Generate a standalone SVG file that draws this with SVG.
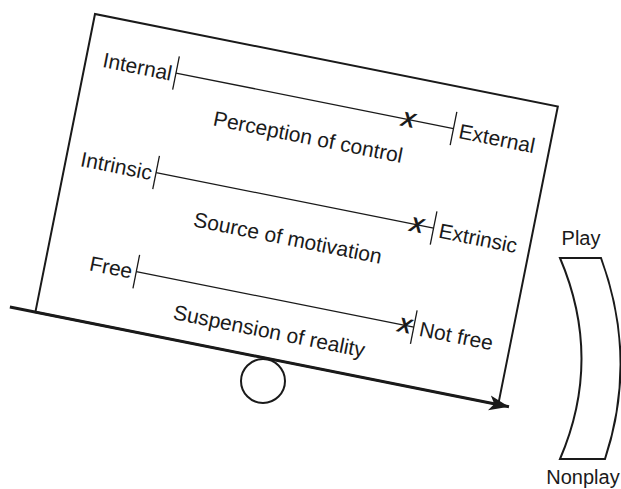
<svg xmlns="http://www.w3.org/2000/svg" width="621" height="489" viewBox="0 0 621 489">
<style>
  text { font-family: "Liberation Sans", Arial, sans-serif; font-size: 21px; fill: #1a1a1a; }
  .board { fill: none; stroke: #1a1a1a; stroke-width: 2; }
  .scale { stroke: #1a1a1a; stroke-width: 1.3; fill: none; }
  .tick { stroke: #1a1a1a; stroke-width: 1.3; }
  .mark { font-weight: bold; font-style: italic; font-size: 21px; text-anchor: middle; }
  .lever { stroke: #1a1a1a; stroke-width: 3; fill: none; }
  .end { text-anchor: end; }
  .mid { text-anchor: middle; }
  .shape { fill: none; stroke: #1a1a1a; stroke-width: 2; stroke-linejoin: miter; }
  .side { font-size: 20px; }
</style>
<defs>
  <marker id="arrow" markerUnits="userSpaceOnUse" markerWidth="24" markerHeight="18" viewBox="0 0 24 18" refX="20" refY="9" orient="auto">
    <path d="M20,9 L0,1.5 L5,9 L0,16.5 Z" fill="#1a1a1a"/>
  </marker>
</defs>
<g transform="translate(95,14) rotate(11.31)">
  <g id="board">
    <rect class="board" x="0" y="0" width="472" height="304"/>
  </g>
  <g id="scale-control">
    <line class="scale" x1="91" y1="42" x2="374" y2="42"/>
    <line class="tick" x1="91" y1="25" x2="91" y2="59"/>
    <line class="tick" x1="374" y1="25" x2="374" y2="59"/>
    <text class="end" x="87" y="50.5">Internal</text>
    <text x="380" y="50.5">External</text>
    <text class="mid" x="233" y="86">Perception of control</text>
    <text class="mark" x="328" y="49.5">X</text>
  </g>
  <g id="scale-motivation">
    <line class="scale" x1="91" y1="143.5" x2="374" y2="143.5"/>
    <line class="tick" x1="91" y1="126.5" x2="91" y2="160.5"/>
    <line class="tick" x1="374" y1="126.5" x2="374" y2="160.5"/>
    <text class="end" x="87" y="152">Intrinsic</text>
    <text x="380" y="152">Extrinsic</text>
    <text class="mid" x="233" y="189">Source of motivation</text>
    <text class="mark" x="357" y="151">X</text>
  </g>
  <g id="scale-reality">
    <line class="scale" x1="91" y1="244.5" x2="374" y2="244.5"/>
    <line class="tick" x1="91" y1="227.5" x2="91" y2="261.5"/>
    <line class="tick" x1="374" y1="227.5" x2="374" y2="261.5"/>
    <text class="end" x="87" y="252.5">Free</text>
    <text x="380" y="252">Not free</text>
    <text class="mid" x="233" y="284">Suspension of reality</text>
    <text class="mark" x="365" y="252">X</text>
  </g>
  <g id="connectors">
    <line class="lever" x1="-26" y1="304" x2="483" y2="304" marker-end="url(#arrow)"/>
  </g>
</g>
<g id="fulcrum">
  <circle cx="263" cy="381" r="22" fill="#fff" stroke="#1a1a1a" stroke-width="2"/>
</g>
<g id="play-scale">
  <path class="shape" d="M560,258 L601,258 Q638,359 605,459 L560,459 Q603,359 560,258 Z"/>
  <text class="mid side" x="581" y="245">Play</text>
  <text class="mid side" x="583" y="483.5">Nonplay</text>
</g>
</svg>
